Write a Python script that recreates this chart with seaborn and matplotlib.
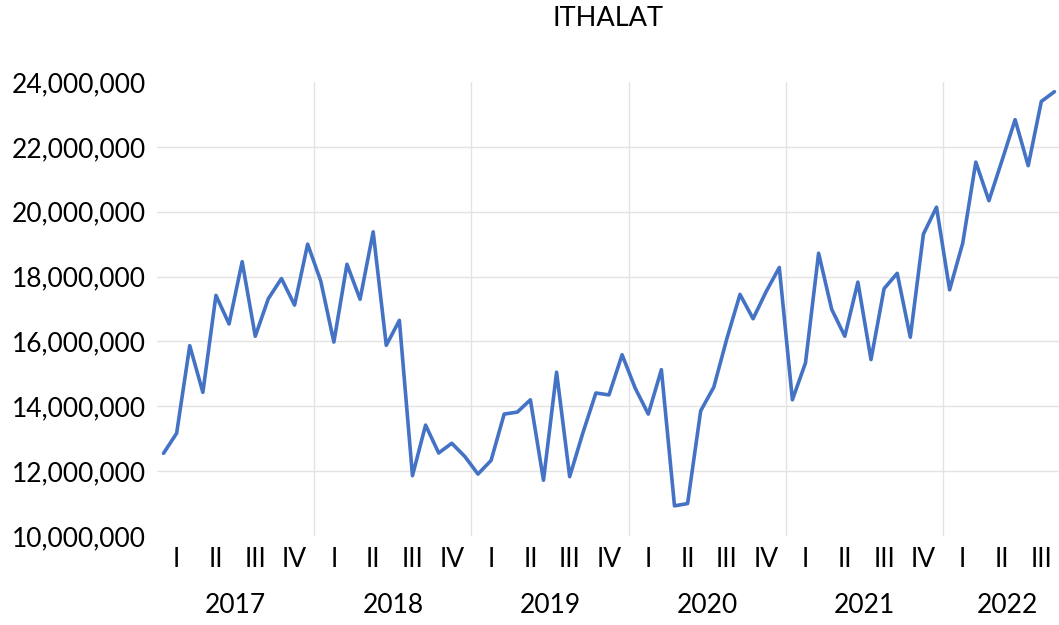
import numpy as np
import pandas as pd
import matplotlib
matplotlib.use("Agg")
import matplotlib.pyplot as plt
import matplotlib.transforms as mtransforms
import seaborn as sns

# ---- data (monthly imports, Jan 2017 - Sep 2022) ----
years = [2017, 2018, 2019, 2020, 2021, 2022]
quarters = ["I", "II", "III", "IV"]
months_in_last_year = 9
values = [
    12.55e6, 13.17e6, 15.87e6, 14.43e6, 17.42e6, 16.54e6, 18.46e6, 16.16e6, 17.32e6, 17.94e6, 17.12e6, 19.00e6,
    17.86e6, 15.98e6, 18.38e6, 17.30e6, 19.38e6, 15.88e6, 16.65e6, 11.86e6, 13.42e6, 12.56e6, 12.86e6, 12.45e6,
    11.91e6, 12.33e6, 13.76e6, 13.82e6, 14.20e6, 11.72e6, 15.05e6, 11.83e6, 13.17e6, 14.41e6, 14.35e6, 15.59e6,
    14.56e6, 13.76e6, 15.13e6, 10.93e6, 11.00e6, 13.86e6, 14.59e6, 16.09e6, 17.45e6, 16.70e6, 17.54e6, 18.28e6,
    14.20e6, 15.34e6, 18.72e6, 16.99e6, 16.16e6, 17.83e6, 15.44e6, 17.63e6, 18.10e6, 16.13e6, 19.31e6, 20.14e6,
    17.59e6, 19.03e6, 21.53e6, 20.34e6, 21.58e6, 22.84e6, 21.42e6, 23.40e6, 23.70e6,
]
y_ticks = [10e6, 12e6, 14e6, 16e6, 18e6, 20e6, 22e6, 24e6]
title = "ITHALAT"

df = pd.DataFrame({"t": np.arange(len(values)), "value": values})

sns.set_theme(style="white")
plt.rcParams["font.family"] = ["Lato", "DejaVu Sans"]

FS = 19
W, H = 1059, 625
fig = plt.figure(figsize=(W / 100, H / 100), dpi=100)
ax = fig.add_axes([157 / W, 89 / H, (W - 157) / W, 454 / H])

sns.lineplot(data=df, x="t", y="value", ax=ax, color="#4472C4", linewidth=2.6)

ax.set_xlim(-0.5, 68.35)
ax.set_ylim(y_ticks[0], y_ticks[-1])

# y axis
ax.set_yticks(y_ticks)
ax.set_yticklabels([f"{int(v):,}" for v in y_ticks], fontsize=FS, color="black")
ax.tick_params(axis="y", length=0, pad=8)
ax.yaxis.grid(True, color="#e3e3e3", linewidth=1.0)
gl = ax.yaxis.get_gridlines()
gl[0].set_visible(False)
gl[-1].set_visible(False)

# x axis: quarter labels
qpos, qlab = [], []
for yi, yr in enumerate(years):
    nm = 12 if yi < len(years) - 1 else months_in_last_year
    for qi in range(nm // 3):
        qpos.append(yi * 12 + qi * 3 + 1)
        qlab.append(quarters[qi])
ax.set_xticks(qpos)
ax.set_xticklabels(qlab, fontsize=FS, color="black")
ax.tick_params(axis="x", length=0, pad=8)

# year separators
for yi in range(1, len(years)):
    ax.axvline(yi * 12 - 0.5, color="#e3e3e3", linewidth=1.0, zorder=0)

# year labels
trans = mtransforms.blended_transform_factory(ax.transData, ax.transAxes)
for yi, yr in enumerate(years):
    nm = 12 if yi < len(years) - 1 else months_in_last_year
    center = yi * 12 + (nm - 1) / 2
    if yi == len(years) - 1:
        center += 0.4
    ax.text(center, -0.152, str(yr), transform=trans, ha="center", va="center",
            fontsize=FS, color="black")

ax.set_xlabel("")
ax.set_ylabel("")
for s in ax.spines.values():
    s.set_visible(False)

fig.text(608 / W, 1 - 19 / H, title, ha="center", va="center", fontsize=19.5, color="black")

fig.savefig("out.png", dpi=100, facecolor="white")
